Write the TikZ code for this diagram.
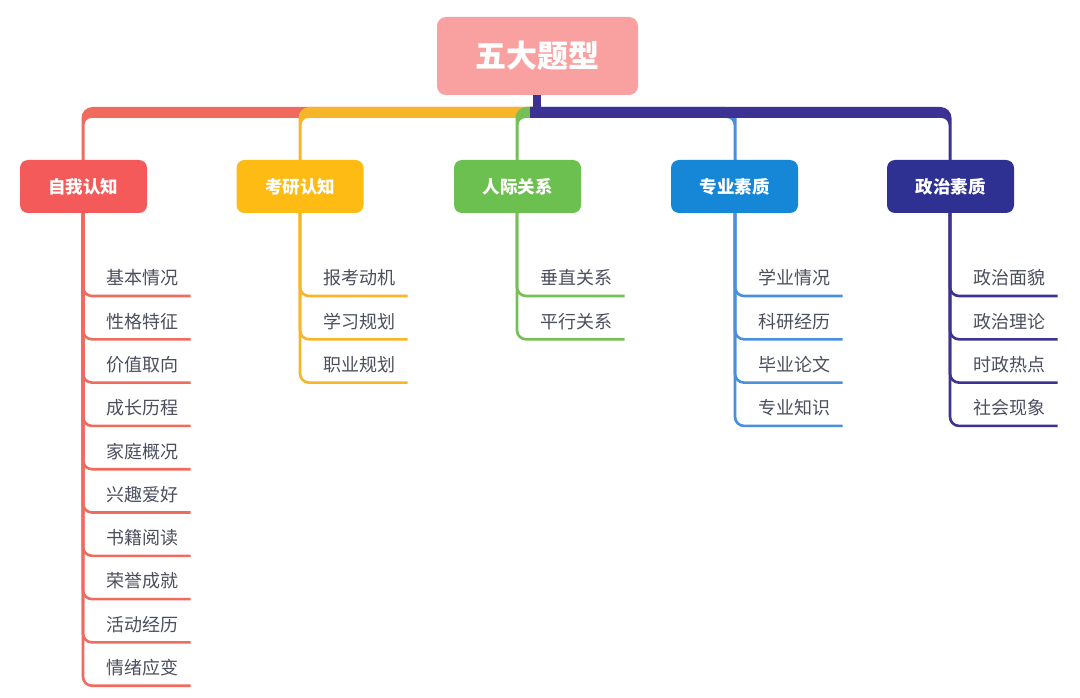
\documentclass[tikz,border=0pt]{standalone}
\usepackage{fontspec}
\newfontfamily\cjk{Noto Sans CJK SC}
\definecolor{rootc}{HTML}{F9A0A0}
\definecolor{redc}{HTML}{F45A5A}
\definecolor{redl}{HTML}{F06A5E}
\definecolor{yelc}{HTML}{FDBB13}
\definecolor{yell}{HTML}{F7B52A}
\definecolor{grnc}{HTML}{6CC04F}
\definecolor{grnl}{HTML}{74C056}
\definecolor{bluc}{HTML}{1686D6}
\definecolor{blul}{HTML}{4A8FDC}
\definecolor{navc}{HTML}{2E3192}
\definecolor{navl}{HTML}{3C3293}
\definecolor{txtc}{HTML}{4B4F5E}
\tikzset{
  rootbox/.style={fill=rootc, rounded corners=9pt, minimum width=201pt, minimum height=78pt, text=white, font=\cjk\bfseries\fontsize{31}{34}\selectfont, inner sep=0pt},
  catbox/.style={fill=#1, rounded corners=8pt, minimum width=127pt, minimum height=53pt, text=white, font=\cjk\bfseries\fontsize{17.5}{20}\selectfont, inner sep=0pt},
  leaftext/.style={anchor=west, text=txtc, font=\cjk\fontsize{18}{20}\selectfont, inner sep=0pt},
  leafline/.style={draw=#1, line width=2.6pt, rounded corners=9pt},
}
\begin{document}
\begin{tikzpicture}[x=1pt,y=-1pt]
\useasboundingbox[fill=white] (0,0) rectangle (1080,698);
% bars (left side)
\foreach \xx/\cc in {83/redl, 300/yell, 517/grnl}{
  \fill[\cc] (\xx-1.5,160) [rounded corners=11pt] -- (\xx-1.5,107) [sharp corners] -- (533,107) -- (533,118) [rounded corners=7pt] -- (\xx+1.5,118) [sharp corners] -- (\xx+1.5,160) -- cycle;
}
% bars (right side)
\foreach \xx/\cc in {735/blul, 950/navl}{
  \fill[\cc] (\xx+1.5,160) [rounded corners=11pt] -- (\xx+1.5,107) [sharp corners] -- (530,107) -- (530,118) [rounded corners=7pt] -- (\xx-1.5,118) [sharp corners] -- (\xx-1.5,160) -- cycle;
}
\fill[navl] (533,92) rectangle (541,110);
% root
\node[rootbox] (root) at (537.5,56) {五大题型};
% categories
\node[catbox=redc] (c1) at (83.5,186.5) {自我认知};
\node[catbox=yelc] (c2) at (300,186.5) {考研认知};
\node[catbox=grnc] (c3) at (517.5,186.5) {人际关系};
\node[catbox=bluc] (c4) at (734.5,186.5) {专业素质};
\node[catbox=navc] (c5) at (950.5,186.5) {政治素质};
% leaves
\newcommand{\leafset}[4]{%
  \foreach \tt [count=\i from 0] in {#4}{
    \pgfmathsetmacro{\uy}{296+43.3*\i}
    \draw[leafline=#3] (#1.south -| #2,0) -- (#2,\uy) -- (#2+107.5,\uy);
    \node[leaftext] (#1-\i) at (#2+23,\uy-18) {\tt};
  }%
}
\leafset{c1}{83}{redl}{基本情况,性格特征,价值取向,成长历程,家庭概况,兴趣爱好,书籍阅读,荣誉成就,活动经历,情绪应变}
\leafset{c2}{300}{yell}{报考动机,学习规划,职业规划}
\leafset{c3}{517}{grnl}{垂直关系,平行关系}
\leafset{c4}{735}{blul}{学业情况,科研经历,毕业论文,专业知识}
\leafset{c5}{950}{navl}{政治面貌,政治理论,时政热点,社会现象}
\end{tikzpicture}
\end{document}
